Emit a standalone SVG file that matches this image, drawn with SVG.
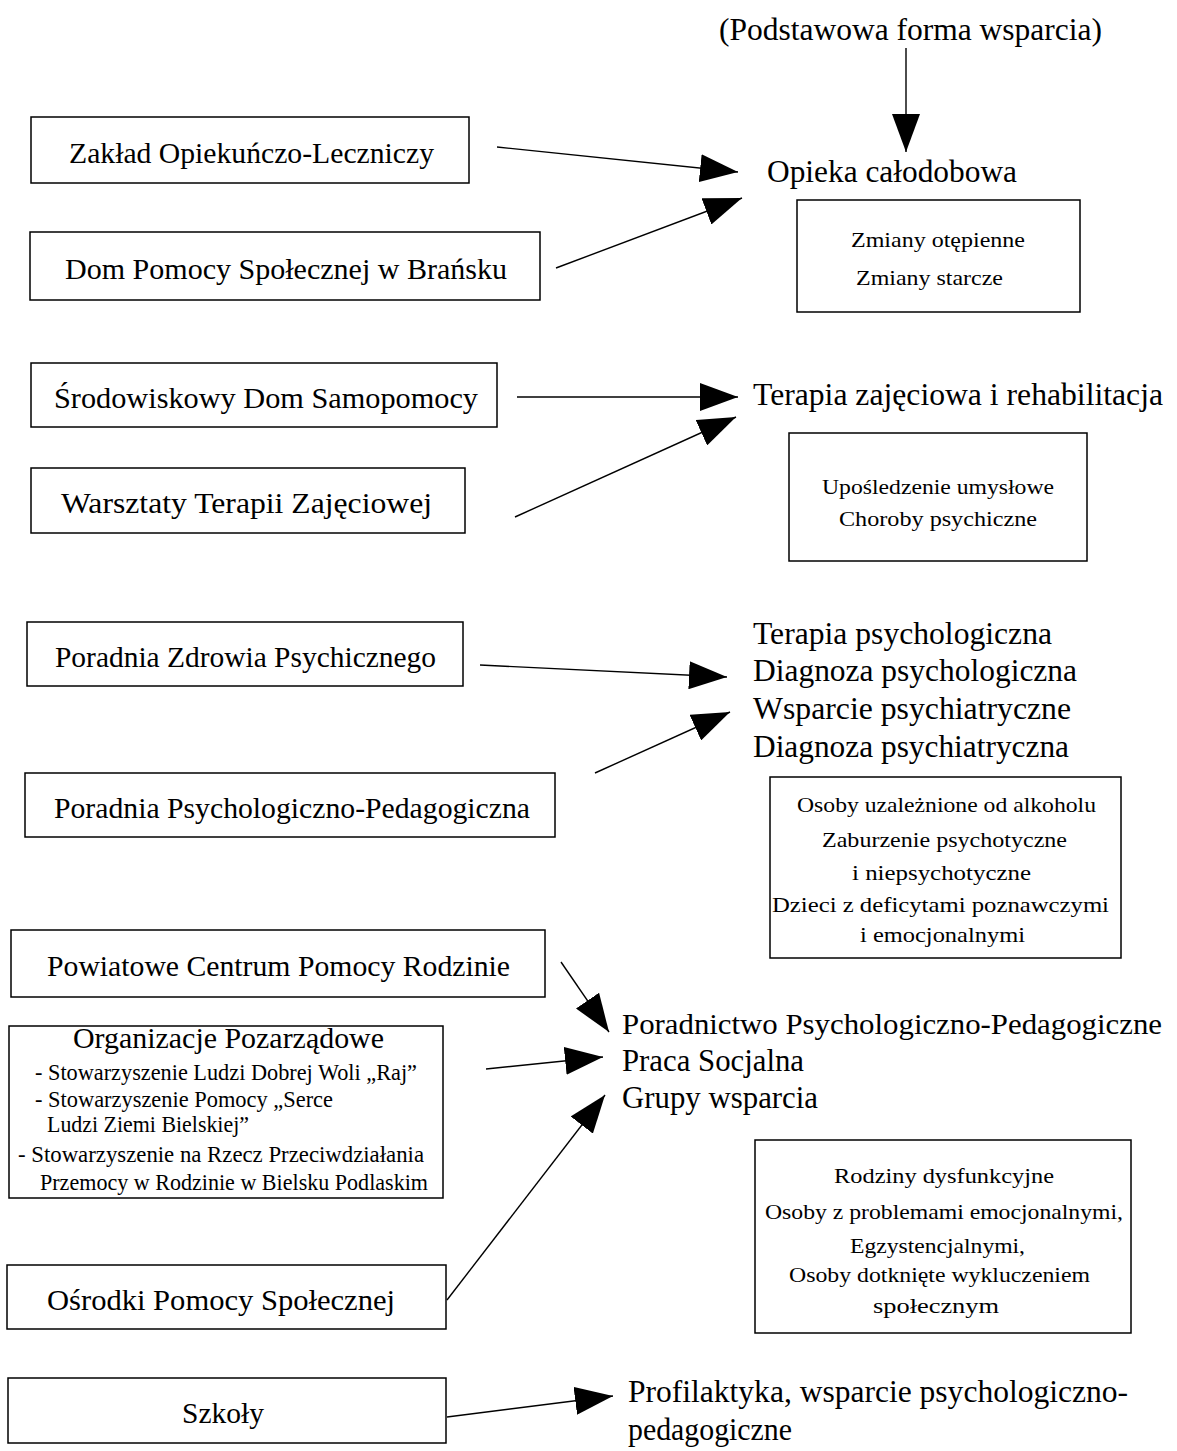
<svg xmlns="http://www.w3.org/2000/svg" width="1177" height="1451" viewBox="0 0 1177 1451">
<style>
  text { font-family: "Liberation Serif", "Times New Roman", serif; fill: #000; }
  .box { fill: #fff; stroke: #000; stroke-width: 1.5; }
  .bt { font-size: 30px; }
  .rt { font-size: 32px; }
  .rt2 { font-size: 30px; }
  .st { font-size: 22px; }
  .ot { font-size: 23px; }
  .conn line { stroke: #000; stroke-width: 1.4; marker-end: url(#ah); }
</style>
<defs>
  <marker id="ah" markerUnits="userSpaceOnUse" markerWidth="38" markerHeight="28" viewBox="0 0 38 28" refX="38" refY="14" orient="auto">
    <path d="M0,0 L38,14 L0,28 z" fill="#000"/>
  </marker>
</defs>
<rect width="1177" height="1451" fill="#fff"/>

<g id="zol">
  <rect class="box" x="31" y="117" width="438" height="66"/>
  <text class="bt" x="69" y="163" textLength="365" lengthAdjust="spacingAndGlyphs">Zakład Opiekuńczo-Leczniczy</text>
</g>
<g id="dps">
  <rect class="box" x="30" y="232" width="510" height="68"/>
  <text class="bt" x="65" y="279" textLength="442" lengthAdjust="spacingAndGlyphs">Dom Pomocy Społecznej w Brańsku</text>
</g>
<g id="sds">
  <rect class="box" x="31" y="363" width="466" height="64"/>
  <text class="bt" x="54" y="408" textLength="424" lengthAdjust="spacingAndGlyphs">Środowiskowy Dom Samopomocy</text>
</g>
<g id="wtz">
  <rect class="box" x="31" y="468" width="434" height="65"/>
  <text class="bt" x="61" y="513" textLength="371" lengthAdjust="spacingAndGlyphs">Warsztaty Terapii Zajęciowej</text>
</g>
<g id="pzp">
  <rect class="box" x="27" y="622" width="436" height="64"/>
  <text class="bt" x="55" y="667" textLength="381" lengthAdjust="spacingAndGlyphs">Poradnia Zdrowia Psychicznego</text>
</g>
<g id="ppp">
  <rect class="box" x="25" y="773" width="530" height="64"/>
  <text class="bt" x="54" y="818" textLength="476" lengthAdjust="spacingAndGlyphs">Poradnia Psychologiczno-Pedagogiczna</text>
</g>
<g id="pcpr">
  <rect class="box" x="11" y="930" width="534" height="67"/>
  <text class="bt" x="47" y="976" textLength="463" lengthAdjust="spacingAndGlyphs">Powiatowe Centrum Pomocy Rodzinie</text>
</g>
<g id="org">
  <rect class="box" x="9" y="1026" width="434" height="172"/>
  <text class="bt" x="73" y="1048" textLength="311" lengthAdjust="spacingAndGlyphs">Organizacje Pozarządowe</text>
  <text class="ot" x="35" y="1080" textLength="382" lengthAdjust="spacingAndGlyphs">- Stowarzyszenie Ludzi Dobrej Woli „Raj”</text>
  <text class="ot" x="35" y="1107" textLength="298" lengthAdjust="spacingAndGlyphs">- Stowarzyszenie Pomocy „Serce</text>
  <text class="ot" x="47" y="1132" textLength="202" lengthAdjust="spacingAndGlyphs">Ludzi Ziemi Bielskiej”</text>
  <text class="ot" x="18" y="1162" textLength="406" lengthAdjust="spacingAndGlyphs">- Stowarzyszenie na Rzecz Przeciwdziałania</text>
  <text class="ot" x="40" y="1190" textLength="388" lengthAdjust="spacingAndGlyphs">Przemocy w Rodzinie w Bielsku Podlaskim</text>
</g>
<g id="ops">
  <rect class="box" x="7" y="1265" width="439" height="64"/>
  <text class="bt" x="47" y="1310" textLength="348" lengthAdjust="spacingAndGlyphs">Ośrodki Pomocy Społecznej</text>
</g>
<g id="szkoly">
  <rect class="box" x="8" y="1378" width="438" height="65"/>
  <text class="bt" x="182" y="1423" textLength="82" lengthAdjust="spacingAndGlyphs">Szkoły</text>
</g>

<g id="podstawowa">
  <text class="rt" x="719" y="40" textLength="383" lengthAdjust="spacingAndGlyphs">(Podstawowa forma wsparcia)</text>
</g>
<g id="opieka">
  <text class="rt" x="767" y="182" textLength="250" lengthAdjust="spacingAndGlyphs">Opieka całodobowa</text>
</g>
<g id="zmiany">
  <rect class="box" x="797" y="200" width="283" height="112"/>
  <text class="st" x="851" y="247" textLength="174" lengthAdjust="spacingAndGlyphs">Zmiany otępienne</text>
  <text class="st" x="856" y="285" textLength="147" lengthAdjust="spacingAndGlyphs">Zmiany starcze</text>
</g>
<g id="terapia">
  <text class="rt" x="753" y="405" textLength="410" lengthAdjust="spacingAndGlyphs">Terapia zajęciowa i rehabilitacja</text>
</g>
<g id="uposledzenie">
  <rect class="box" x="789" y="433" width="298" height="128"/>
  <text class="st" x="822" y="494" textLength="232" lengthAdjust="spacingAndGlyphs">Upośledzenie umysłowe</text>
  <text class="st" x="839" y="526" textLength="198" lengthAdjust="spacingAndGlyphs">Choroby psychiczne</text>
</g>
<g id="psych">
  <text class="rt" x="753" y="644" textLength="299" lengthAdjust="spacingAndGlyphs">Terapia psychologiczna</text>
  <text class="rt" x="753" y="681" textLength="324" lengthAdjust="spacingAndGlyphs">Diagnoza psychologiczna</text>
  <text class="rt" x="753" y="719" textLength="318" lengthAdjust="spacingAndGlyphs">Wsparcie  psychiatryczne</text>
  <text class="rt" x="753" y="757" textLength="316" lengthAdjust="spacingAndGlyphs">Diagnoza psychiatryczna</text>
</g>
<g id="osoby">
  <rect class="box" x="770" y="777" width="351" height="181"/>
  <text class="st" x="797" y="812" textLength="299" lengthAdjust="spacingAndGlyphs">Osoby uzależnione od alkoholu</text>
  <text class="st" x="822" y="847" textLength="245" lengthAdjust="spacingAndGlyphs">Zaburzenie psychotyczne</text>
  <text class="st" x="852" y="880" textLength="179" lengthAdjust="spacingAndGlyphs">i niepsychotyczne</text>
  <text class="st" x="772" y="912" textLength="337" lengthAdjust="spacingAndGlyphs">Dzieci z deficytami poznawczymi</text>
  <text class="st" x="860" y="942" textLength="165" lengthAdjust="spacingAndGlyphs">i emocjonalnymi</text>
</g>
<g id="poradnictwo">
  <text class="rt2" x="622" y="1034" textLength="540" lengthAdjust="spacingAndGlyphs">Poradnictwo Psychologiczno-Pedagogiczne</text>
  <text class="rt" x="622" y="1071" textLength="182" lengthAdjust="spacingAndGlyphs">Praca Socjalna</text>
  <text class="rt" x="622" y="1108" textLength="196" lengthAdjust="spacingAndGlyphs">Grupy wsparcia</text>
</g>
<g id="rodziny">
  <rect class="box" x="755" y="1140" width="376" height="193"/>
  <text class="st" x="834" y="1183" textLength="220" lengthAdjust="spacingAndGlyphs">Rodziny dysfunkcyjne</text>
  <text class="st" x="765" y="1219" textLength="358" lengthAdjust="spacingAndGlyphs">Osoby z problemami emocjonalnymi,</text>
  <text class="st" x="850" y="1253" textLength="175" lengthAdjust="spacingAndGlyphs">Egzystencjalnymi,</text>
  <text class="st" x="789" y="1282" textLength="301" lengthAdjust="spacingAndGlyphs">Osoby dotknięte wykluczeniem</text>
  <text class="st" x="873" y="1313" textLength="126" lengthAdjust="spacingAndGlyphs">społecznym</text>
</g>
<g id="profilaktyka">
  <text class="rt" x="628" y="1402" textLength="500" lengthAdjust="spacingAndGlyphs">Profilaktyka, wsparcie psychologiczno-</text>
  <text class="rt" x="628" y="1440" textLength="164" lengthAdjust="spacingAndGlyphs">pedagogiczne</text>
</g>

<g id="connectors" class="conn">
  <line x1="906" y1="48" x2="906" y2="152"/>
  <line x1="497" y1="147" x2="738" y2="172"/>
  <line x1="556" y1="268" x2="742" y2="198"/>
  <line x1="517" y1="397" x2="738" y2="397"/>
  <line x1="515" y1="517" x2="736" y2="417"/>
  <line x1="480" y1="665" x2="727" y2="677"/>
  <line x1="595" y1="773" x2="730" y2="712"/>
  <line x1="561" y1="962" x2="609" y2="1032"/>
  <line x1="486" y1="1069" x2="603" y2="1057"/>
  <line x1="447" y1="1300" x2="605" y2="1095"/>
  <line x1="447" y1="1417" x2="613" y2="1396"/>
</g>
</svg>
